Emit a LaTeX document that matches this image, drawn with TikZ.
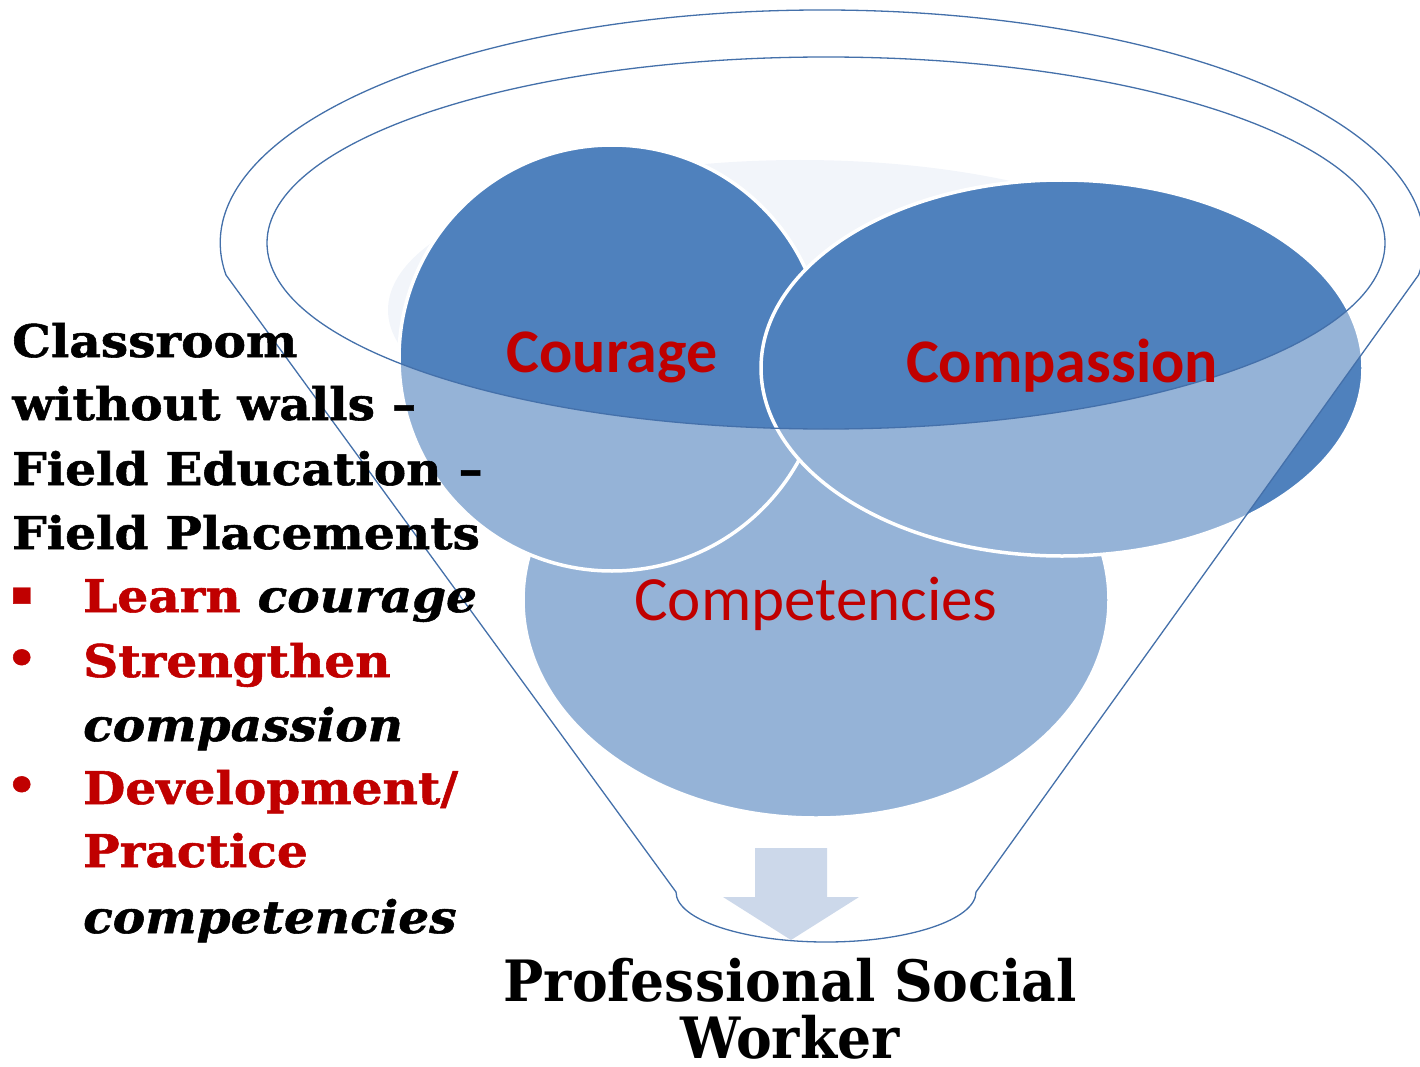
\documentclass[tikz,border=0pt]{standalone}
\usepackage{fontspec}
\setmainfont{DejaVu Serif}
\newfontfamily\calibri{Carlito}
\newfontfamily\bookman[FakeStretch=1.08, BoldFeatures={FakeBold=1.2}, BoldItalicFeatures={FakeBold=1.2}]{DejaVu Serif}
\newfontfamily\georgia[FakeStretch=0.94]{DejaVu Serif}
\usepackage{xcolor}
\usepackage{tikz}
\usetikzlibrary{shapes.geometric}

\definecolor{funnelblue}{HTML}{4F81BD}
\definecolor{funnelline}{HTML}{4470AA}
\definecolor{darkred}{HTML}{C00000}
\definecolor{faintblue}{HTML}{F2F5FA}
\definecolor{arrowblue}{HTML}{CCD8EA}

\begin{document}
\begin{tikzpicture}[
        x=1pt, y=-1pt,
        blob/.style={ellipse, fill=funnelblue, draw=white, line width=3.5pt, inner sep=0pt},
        ball/.style={font=\calibri\bfseries\fontsize{62}{62}\selectfont, text=darkred, anchor=base},
        field/.style={font=\bookman\bfseries\fontsize{45}{64}\selectfont, anchor=base west, inner sep=0pt},
        point/.style={field, text=darkred},
        tip/.style={field, font=\bookman\bfseries\itshape\fontsize{45}{64}\selectfont},
        dot/.style={point, font=\bookman\bfseries\fontsize{32}{32}\selectfont},
        title/.style={font=\georgia\bfseries\fontsize{57}{62}\selectfont, anchor=base, inner sep=0pt, text depth=0pt},
        rim/.style={draw=funnelline, line width=1.3pt},
        ]
        \useasboundingbox (0,0) rectangle (1420,1067);

        % funnel corners
        \coordinate (lefttop) at (226,275);
        \coordinate (righttop) at (1418,275);
        \coordinate (rightbot) at (976,892);
        \coordinate (leftbot) at (676,892);

        % balls in the funnel
        \fill[faintblue] (800,310) ellipse [x radius=412, y radius=150];
        \node[blob, minimum width=586pt, minimum height=436pt] (competencies) at (816,600) {};
        \node[blob, minimum width=426pt, minimum height=426pt] (courage) at (612,358) {};
        \node[blob, minimum width=602pt, minimum height=376pt] (compassion) at (1062,368) {};

        % glass of the funnel
        \fill[white, fill opacity=0.4, even odd rule]
            (lefttop) arc[start angle=172.1, end angle=367.9, x radius=602, y radius=233]
            -- (rightbot) arc[start angle=0, end angle=180, x radius=150, y radius=50] -- cycle
            (826,243) ellipse [x radius=559, y radius=186];
        \draw[rim] (lefttop) arc[start angle=172.1, end angle=367.9, x radius=602, y radius=233]
            -- (rightbot) arc[start angle=0, end angle=180, x radius=150, y radius=50] -- cycle;
        \draw[rim] (826,243) ellipse [x radius=559, y radius=186];

        % outflow
        \fill[arrowblue] (755,848) -- (827,848) -- (827,897) -- (859,897) -- (791,940)
            -- (723,897) -- (755,897) -- cycle;

        \node[ball] (couragetxt) at (612,372) {Courage};
        \node[ball] (compassiontxt) at (1062,382) {Compassion};
        \node[ball, font=\calibri\fontsize{63}{63}\selectfont] (competenciestxt) at (816,620) {Competencies};

        % field education list
        \node[field] (l1) at (12,357) {Classroom};
        \node[field] (l2) at (12,420) {without walls –};
        \node[field] (l3) at (12,485) {Field Education –};
        \node[field] (l4) at (12,549) {Field Placements};
        \node[dot] (b1) at (10,604) {▪};
        \node[point] (l5) at (83,612) {Learn \textcolor{black}{\itshape courage}};
        \node[point] (b2) at (6,674) {•};
        \node[point] (l6) at (83,677) {Strengthen};
        \node[tip] (l7) at (83,741) {compassion};
        \node[point] (b3) at (6,801) {•};
        \node[point] (l8) at (83,804) {Development/};
        \node[point] (l9) at (83,867) {Practice};
        \node[tip] (l10) at (83,933) {competencies};

        \node[title] (pro1) at (790,1001) {Professional Social};
        \node[title] (pro2) at (790,1058) {Worker};
    \end{tikzpicture}
\end{document}
